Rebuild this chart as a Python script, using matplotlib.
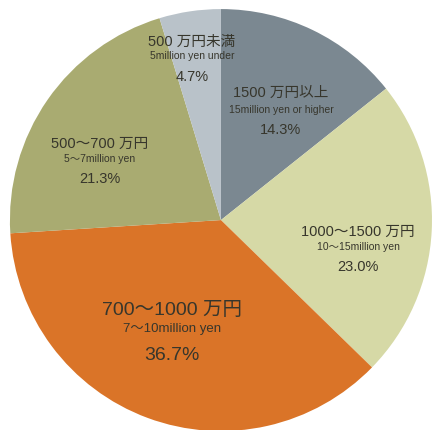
import matplotlib
matplotlib.use('Agg')
import matplotlib.pyplot as plt

plt.rcParams['font.family'] = ['Liberation Sans', 'Noto Sans CJK JP', 'DejaVu Sans']

# household income share, clockwise from 12 o'clock
labels_jp = ['1500 万円以上', '1000〜1500 万円', '700〜1000 万円', '500〜700 万円', '500 万円未満']
labels_en = ['15million yen or higher', '10〜15million yen', '7〜10million yen',
             '5〜7million yen', '5million yen under']
shares = [14.3, 23.0, 36.7, 21.3, 4.7]
colors = ['#7b8891', '#d6d9a6', '#da7428', '#a9ab71', '#b9c2c9']

# label anchor (english line) in data units, font sizes and line offsets: (jp, en, pct)
label_xy = [(0.284, 0.521), (0.65, -0.128), (-0.232, -0.517), (-0.573, 0.289), (-0.137, 0.777)]
sizes = [(10.5, 7.5, 10.5), (10.5, 7.5, 10.5), (14, 9.5, 14), (10.5, 7.5, 10.5), (10.5, 7.5, 10.5)]
line_gap = [(0.081, 0.0, -0.094), (0.071, 0.0, -0.095), (0.09, 0.0, -0.123),
            (0.071, 0.0, -0.095), (0.066, 0.0, -0.10)]

fig = plt.figure(figsize=(4.4, 4.3), dpi=100)
ax = fig.add_axes([0, 0, 1, 1])
ax.pie(shares, colors=colors, startangle=90, counterclock=False,
       radius=1.0, wedgeprops=dict(linewidth=0))

txtc = '#37362c'
for i in range(len(shares)):
    x, y = label_xy[i]
    s1, s2, s3 = sizes[i]
    g1, g2, g3 = line_gap[i]
    ax.text(x, y + g1, labels_jp[i], ha='center', va='center', fontsize=s1, color=txtc)
    ax.text(x, y + g2, labels_en[i], ha='center', va='center', fontsize=s2, color=txtc)
    ax.text(x, y + g3, '%.1f%%' % shares[i], ha='center', va='center', fontsize=s3, color=txtc)

ax.set_xlim(-1.047, 1.038)
ax.set_ylim(-0.995, 1.043)
ax.set_aspect('auto')
ax.axis('off')
fig.savefig('out.png', dpi=100, facecolor='white')
